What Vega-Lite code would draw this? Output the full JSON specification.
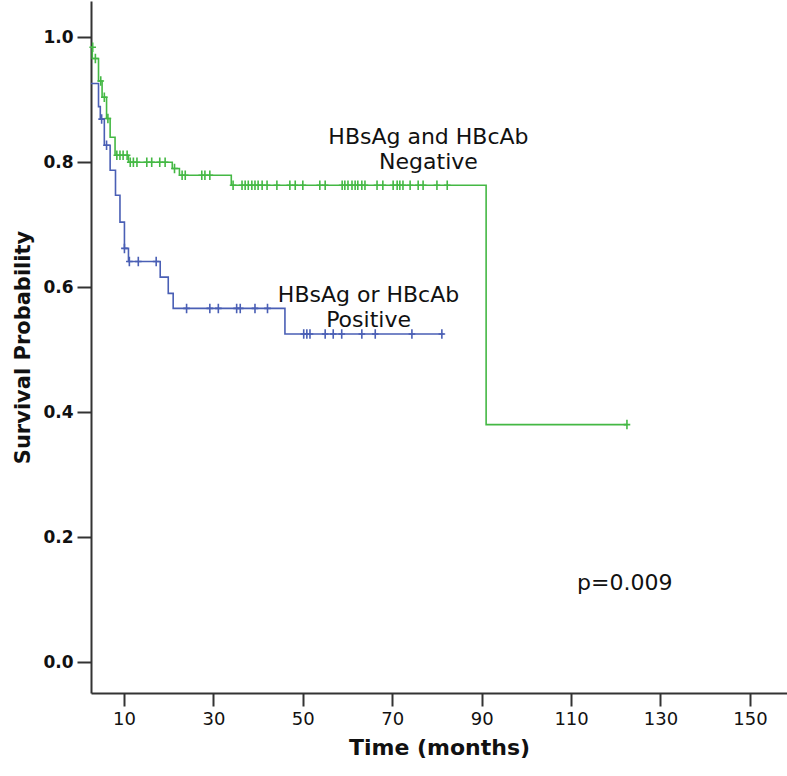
{
  "$schema": "https://vega.github.io/schema/vega-lite/v6.json",
  "autosize": {"type": "none"},
  "padding": {"left": 91, "top": 1, "right": 0, "bottom": 83},
  "width": 696,
  "height": 692,
  "background": "white",
  "config": {
    "view": {"stroke": null},
    "font": "DejaVu Sans"
  },
  "datasets": {
    "curves": [
      {"group": "Negative", "t": 2.62, "s": 0.984},
      {"group": "Negative", "t": 2.9, "s": 0.966},
      {"group": "Negative", "t": 4.3, "s": 0.93},
      {"group": "Negative", "t": 5.1, "s": 0.904},
      {"group": "Negative", "t": 6.1, "s": 0.87},
      {"group": "Negative", "t": 6.9, "s": 0.84},
      {"group": "Negative", "t": 8.0, "s": 0.811},
      {"group": "Negative", "t": 11.0, "s": 0.8},
      {"group": "Negative", "t": 20.8, "s": 0.79},
      {"group": "Negative", "t": 22.4, "s": 0.779},
      {"group": "Negative", "t": 34.0, "s": 0.763},
      {"group": "Negative", "t": 91.0, "s": 0.38},
      {"group": "Negative", "t": 122.5, "s": 0.38},
      {"group": "Positive", "t": 2.62, "s": 0.926},
      {"group": "Positive", "t": 4.3, "s": 0.889},
      {"group": "Positive", "t": 4.7, "s": 0.869},
      {"group": "Positive", "t": 5.6, "s": 0.827},
      {"group": "Positive", "t": 6.9, "s": 0.787},
      {"group": "Positive", "t": 8.1, "s": 0.747},
      {"group": "Positive", "t": 9.1, "s": 0.704},
      {"group": "Positive", "t": 10.1, "s": 0.662},
      {"group": "Positive", "t": 11.0, "s": 0.641},
      {"group": "Positive", "t": 18.1, "s": 0.616},
      {"group": "Positive", "t": 19.9, "s": 0.59},
      {"group": "Positive", "t": 21.0, "s": 0.566},
      {"group": "Positive", "t": 46.0, "s": 0.525},
      {"group": "Positive", "t": 81.5, "s": 0.525}
    ],
    "censors": [
      {"group": "Negative", "t": 3.0, "s": 0.984},
      {"group": "Negative", "t": 3.6, "s": 0.966},
      {"group": "Negative", "t": 4.8, "s": 0.93},
      {"group": "Negative", "t": 5.6, "s": 0.904},
      {"group": "Negative", "t": 6.4, "s": 0.87},
      {"group": "Negative", "t": 8.4, "s": 0.811},
      {"group": "Negative", "t": 9.1, "s": 0.811},
      {"group": "Negative", "t": 9.8, "s": 0.811},
      {"group": "Negative", "t": 10.7, "s": 0.811},
      {"group": "Negative", "t": 11.4, "s": 0.8},
      {"group": "Negative", "t": 12.1, "s": 0.8},
      {"group": "Negative", "t": 12.9, "s": 0.8},
      {"group": "Negative", "t": 15.1, "s": 0.8},
      {"group": "Negative", "t": 16.2, "s": 0.8},
      {"group": "Negative", "t": 18.0, "s": 0.8},
      {"group": "Negative", "t": 19.2, "s": 0.8},
      {"group": "Negative", "t": 21.3, "s": 0.79},
      {"group": "Negative", "t": 23.0, "s": 0.779},
      {"group": "Negative", "t": 23.7, "s": 0.779},
      {"group": "Negative", "t": 27.4, "s": 0.779},
      {"group": "Negative", "t": 28.1, "s": 0.779},
      {"group": "Negative", "t": 29.2, "s": 0.779},
      {"group": "Negative", "t": 34.4, "s": 0.763},
      {"group": "Negative", "t": 36.4, "s": 0.763},
      {"group": "Negative", "t": 37.1, "s": 0.763},
      {"group": "Negative", "t": 37.8, "s": 0.763},
      {"group": "Negative", "t": 38.6, "s": 0.763},
      {"group": "Negative", "t": 39.3, "s": 0.763},
      {"group": "Negative", "t": 40.0, "s": 0.763},
      {"group": "Negative", "t": 40.9, "s": 0.763},
      {"group": "Negative", "t": 42.0, "s": 0.763},
      {"group": "Negative", "t": 44.2, "s": 0.763},
      {"group": "Negative", "t": 47.1, "s": 0.763},
      {"group": "Negative", "t": 48.3, "s": 0.763},
      {"group": "Negative", "t": 50.0, "s": 0.763},
      {"group": "Negative", "t": 53.8, "s": 0.763},
      {"group": "Negative", "t": 55.0, "s": 0.763},
      {"group": "Negative", "t": 58.8, "s": 0.763},
      {"group": "Negative", "t": 59.4, "s": 0.763},
      {"group": "Negative", "t": 60.1, "s": 0.763},
      {"group": "Negative", "t": 61.0, "s": 0.763},
      {"group": "Negative", "t": 61.7, "s": 0.763},
      {"group": "Negative", "t": 62.3, "s": 0.763},
      {"group": "Negative", "t": 63.2, "s": 0.763},
      {"group": "Negative", "t": 63.9, "s": 0.763},
      {"group": "Negative", "t": 66.6, "s": 0.763},
      {"group": "Negative", "t": 67.9, "s": 0.763},
      {"group": "Negative", "t": 70.2, "s": 0.763},
      {"group": "Negative", "t": 71.1, "s": 0.763},
      {"group": "Negative", "t": 71.7, "s": 0.763},
      {"group": "Negative", "t": 72.4, "s": 0.763},
      {"group": "Negative", "t": 74.0, "s": 0.763},
      {"group": "Negative", "t": 75.8, "s": 0.763},
      {"group": "Negative", "t": 76.9, "s": 0.763},
      {"group": "Negative", "t": 80.0, "s": 0.763},
      {"group": "Negative", "t": 82.3, "s": 0.763},
      {"group": "Negative", "t": 122.5, "s": 0.38},
      {"group": "Positive", "t": 5.0, "s": 0.869},
      {"group": "Positive", "t": 6.1, "s": 0.827},
      {"group": "Positive", "t": 10.1, "s": 0.662},
      {"group": "Positive", "t": 11.2, "s": 0.641},
      {"group": "Positive", "t": 13.2, "s": 0.641},
      {"group": "Positive", "t": 17.2, "s": 0.641},
      {"group": "Positive", "t": 24.0, "s": 0.566},
      {"group": "Positive", "t": 29.2, "s": 0.566},
      {"group": "Positive", "t": 31.1, "s": 0.566},
      {"group": "Positive", "t": 35.2, "s": 0.566},
      {"group": "Positive", "t": 36.0, "s": 0.566},
      {"group": "Positive", "t": 39.3, "s": 0.566},
      {"group": "Positive", "t": 42.1, "s": 0.566},
      {"group": "Positive", "t": 50.2, "s": 0.525},
      {"group": "Positive", "t": 50.9, "s": 0.525},
      {"group": "Positive", "t": 51.6, "s": 0.525},
      {"group": "Positive", "t": 55.0, "s": 0.525},
      {"group": "Positive", "t": 56.8, "s": 0.525},
      {"group": "Positive", "t": 58.7, "s": 0.525},
      {"group": "Positive", "t": 63.2, "s": 0.525},
      {"group": "Positive", "t": 66.2, "s": 0.525},
      {"group": "Positive", "t": 74.4, "s": 0.525},
      {"group": "Positive", "t": 81.1, "s": 0.525}
    ],
    "labels": [
      {"t": 78.1, "s": 0.84, "label": "HBsAg and HBcAb"},
      {"t": 78.1, "s": 0.80, "label": "Negative"},
      {"t": 64.7, "s": 0.587, "label": "HBsAg or HBcAb"},
      {"t": 64.7, "s": 0.547, "label": "Positive"},
      {"t": 122.0, "s": 0.126, "label": "p=0.009"}
    ]
  },
  "encoding": {
    "x": {
      "field": "t", "type": "quantitative",
      "scale": {"domain": [2.62, 158.3], "nice": false, "zero": false},
      "axis": {
        "title": "Time (months)",
        "values": [10, 30, 50, 70, 90, 110, 130, 150],
        "grid": false,
        "domainColor": "#333333", "domainWidth": 2,
        "tickColor": "#333333", "tickWidth": 2, "tickSize": 13,
        "labelFont": "DejaVu Sans", "labelFontSize": 18, "labelColor": "#111111", "labelPadding": 4,
        "titleFont": "DejaVu Sans", "titleFontSize": 22, "titleFontWeight": "bold", "titleColor": "#111111", "titlePadding": 9
      }
    },
    "y": {
      "field": "s", "type": "quantitative",
      "scale": {"domain": [-0.0496, 1.058], "nice": false, "zero": false},
      "axis": {
        "title": "Survival Probability",
        "values": [0, 0.2, 0.4, 0.6, 0.8, 1.0],
        "format": ".1f",
        "grid": false,
        "domainColor": "#333333", "domainWidth": 2,
        "tickColor": "#333333", "tickWidth": 2, "tickSize": 14,
        "labelFont": "DejaVu Sans", "labelFontSize": 17, "labelFontWeight": "bold", "labelColor": "#111111", "labelPadding": 4,
        "titleFont": "DejaVu Sans", "titleFontSize": 21, "titleFontWeight": "bold", "titleColor": "#111111", "titlePadding": 9
      }
    }
  },
  "layer": [
    {
      "data": {"name": "curves"},
      "mark": {"type": "line", "interpolate": "step-after", "strokeWidth": 1.6, "clip": true},
      "encoding": {
        "color": {"field": "group", "type": "nominal", "scale": {"domain": ["Negative", "Positive"], "range": ["#44b844", "#4a5fb5"]}, "legend": null}
      }
    },
    {
      "data": {"name": "censors"},
      "mark": {"type": "point", "shape": "M0,-1V1M-0.7,0H0.7", "size": 90, "strokeWidth": 1.6, "filled": false, "opacity": 1},
      "encoding": {
        "color": {"field": "group", "type": "nominal", "scale": {"domain": ["Negative", "Positive"], "range": ["#44b844", "#4a5fb5"]}, "legend": null}
      }
    },
    {
      "data": {"name": "labels"},
      "mark": {"type": "text", "font": "DejaVu Sans", "fontSize": 22, "color": "#111111", "align": "center", "baseline": "middle"},
      "encoding": {"text": {"field": "label", "type": "nominal"}}
    }
  ]
}
